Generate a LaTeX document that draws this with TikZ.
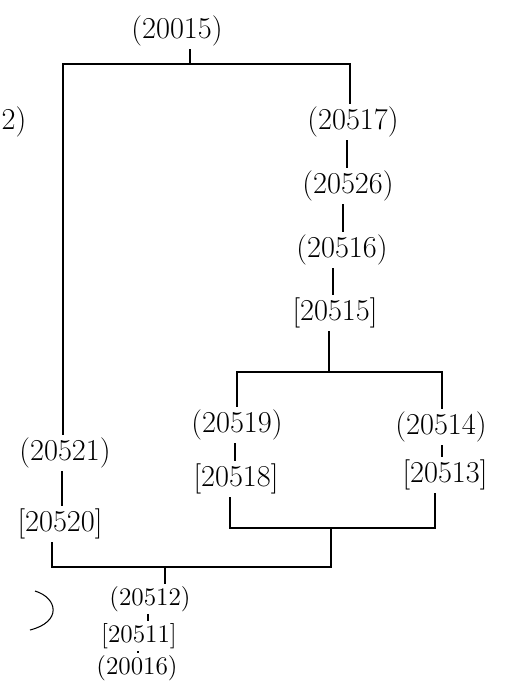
\documentclass[tikz,border=0pt]{standalone}
\usetikzlibrary{positioning, calc}
\tikzset{
  val/.style={
    rectangle, font=\LARGE, inner sep=1.5pt, align=center,
  },
  val small/.style={
    val, font=\Large, inner sep=1pt,
  },
  link/.style={
    line width=0.8pt, draw=black,
  },
  tag/.style={
    font=\LARGE, inner sep=0pt,
  }
}
\begin{document}
\begin{tikzpicture}[x=0.02cm, y=-0.02cm]

  \useasboundingbox (0,0) rectangle (506,693);

  \node[tag] (q) at (14,122) {2)};

  \node[val] (n20015) at (177,31) {(20015)};

  \node[val] (n20517) at (353,122) {(20517)};
  \node[val] (n20526) at (348,186) {(20526)};
  \node[val] (n20516) at (342,250) {(20516)};
  \node[val] (n20515) at (335,313) {[20515]};

  \node[val] (n20519) at (237,425) {(20519)};
  \node[val] (n20518) at (236,479) {[20518]};
  \node[val] (n20514) at (441,427) {(20514)};
  \node[val] (n20513) at (445,475) {[20513]};

  \node[val] (n20521) at (65,453) {(20521)};
  \node[val] (n20520) at (60,524) {[20520]};

  \node[val small] (n20512) at (150,599) {(20512)};
  \node[val small] (n20511) at (139,636) {[20511]};
  \node[val small] (n20016) at (137,668) {(20016)};

  \coordinate (top) at (190,64);
  \coordinate (splitA) at (329,372);
  \coordinate (mergeA) at (331,528);
  \coordinate (mergeB) at (165,567);

  \draw[link] (n20015.south -| top) -- (top);
  \draw[link] (n20521.north -| 63,0) |- (top) -| (n20517.north -| 350,0);

  \draw[link] (n20517.south -| 347,0) -- (n20526.north -| 347,0);
  \draw[link] (n20526.south -| 343,0) -- (n20516.north -| 343,0);
  \draw[link] (n20516.south -| 333,0) -- (n20515.north -| 333,0);
  \draw[link] (n20515.south -| splitA) -- (splitA);
  \draw[link] (n20519.north) |- (splitA) -| (n20514.north -| 442,0);

  \draw[link] (n20519.south -| 235,0) -- (n20518.north -| 235,0);
  \draw[link] (n20514.south -| 442,0) -- (n20513.north -| 442,0);
  \draw[link] (n20521.south -| 62,0) -- (n20520.north -| 62,0);

  \draw[link] (n20518.south -| 230,0) |- (mergeA) -| (n20513.south -| 435,0);
  \draw[link] (n20520.south -| 52,0) |- (mergeB) -| (mergeA);
  \draw[link] (mergeB) -- (mergeB |- n20512.north);

  \draw[link] (n20512.south -| 148,0) -- (n20511.north -| 148,0);
  \draw[link] (n20511.south -| 138,0) -- (n20016.north -| 138,0);

  % stray mark at the left
  \draw[line width=0.6pt] (35,591) .. controls (58,598) and (62,622) .. (30,630);

\end{tikzpicture}
\end{document}
